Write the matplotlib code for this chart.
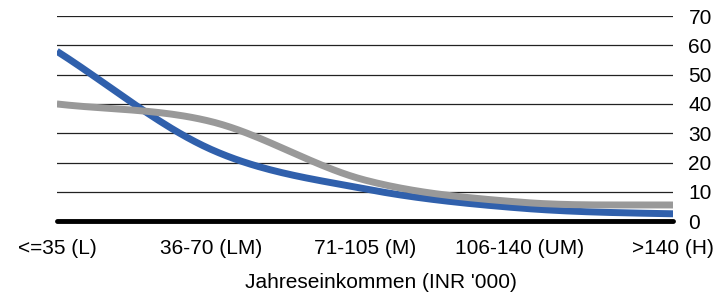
import numpy as np
import matplotlib
matplotlib.use('Agg')
import matplotlib.pyplot as plt

plt.rcParams['font.family'] = ['Liberation Sans', 'DejaVu Sans']

# daten
kategorien = ['<=35 (L)', '36-70 (LM)', '71-105 (M)', '106-140 (UM)', '>140 (H)']
blau = [58, 24.5, 11, 4.5, 2.5]
grau = [40, 34, 14, 6.5, 5.5]
y_ticks = [0, 10, 20, 30, 40, 50, 60, 70]


def glatt(werte, n=40):
    # catmull-rom kurve wie die geglaettete linie in excel
    p = np.asarray(werte, dtype=float)
    x = np.arange(len(p), dtype=float)
    xs, ys = [], []
    for i in range(len(p) - 1):
        p0 = p[i - 1] if i > 0 else 2 * p[i] - p[i + 1]
        p3 = p[i + 2] if i + 2 < len(p) else p[i + 1]
        p1, p2 = p[i], p[i + 1]
        t = np.linspace(0, 1, n)
        c1 = p1 + (p2 - p0) / 6
        c2 = p2 - (p3 - p1) / 6
        y = (1 - t) ** 3 * p1 + 3 * (1 - t) ** 2 * t * c1 + 3 * (1 - t) * t ** 2 * c2 + t ** 3 * p2
        xs.append(x[i] + t)
        ys.append(y)
    return np.concatenate(xs), np.concatenate(ys)


fig = plt.figure(figsize=(7.2, 2.98), dpi=100)
ax = fig.add_axes([0.079, 0.258, 0.856, 0.688])

for v in y_ticks[1:]:
    ax.axhline(v, color='#222222', lw=0.9, zorder=1)

xb, yb = glatt(blau)
xg, yg = glatt(grau)
ax.plot(xb, yb, color='#3060AC', lw=5, solid_capstyle='butt', zorder=3)
ax.plot(xg, yg, color='#999999', lw=5, solid_capstyle='butt', zorder=4)

ax.plot([0, len(kategorien) - 1], [0, 0], color='black', lw=3.5,
        solid_capstyle='round', zorder=5, clip_on=False)

ax.set_xlim(0, len(kategorien) - 1)
ax.set_ylim(0, 70)
ax.set_xticks(range(len(kategorien)))
ax.set_xticklabels(kategorien)
ax.set_yticks(y_ticks)
ax.yaxis.tick_right()
ax.tick_params(axis='y', length=0, pad=11, labelsize=15)
ax.tick_params(axis='x', length=0, pad=13, labelsize=15)
ax.set_xlabel("Jahreseinkommen (INR '000)", fontsize=15)
ax.xaxis.set_label_coords(0.525, -0.255)
for s in ax.spines.values():
    s.set_visible(False)

fig.savefig('out.png', dpi=100)
